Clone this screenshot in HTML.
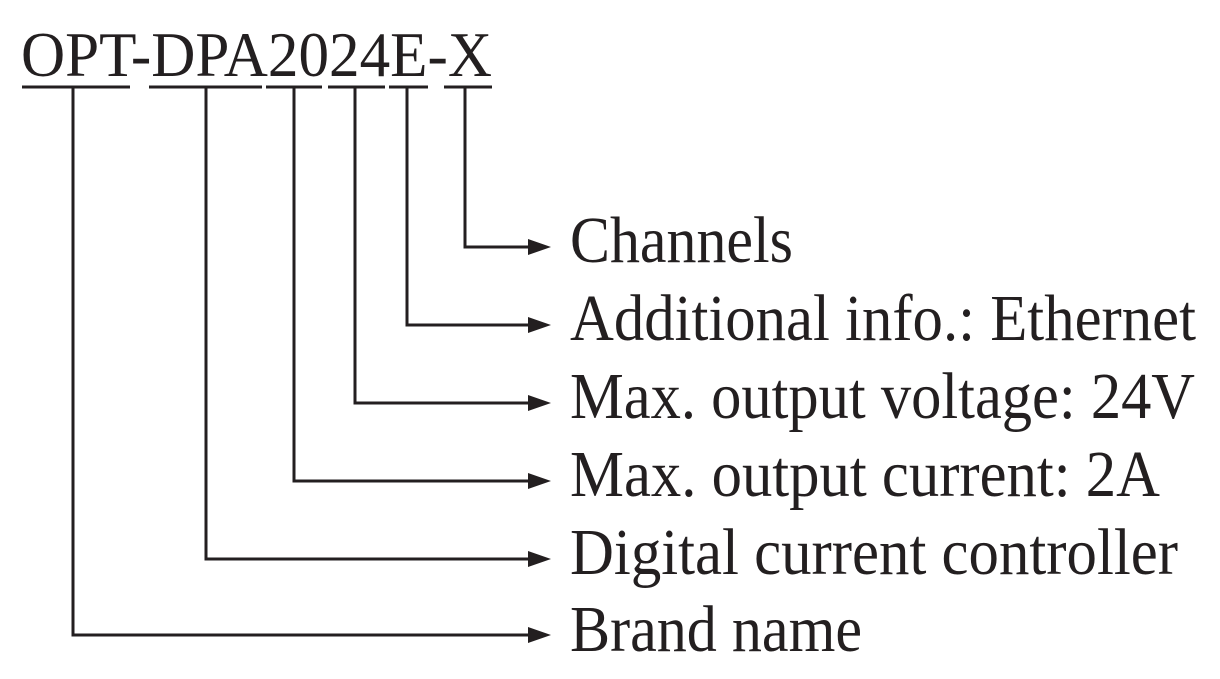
<!DOCTYPE html>
<html><head><meta charset="utf-8"><style>html,body{margin:0;padding:0;background:#fff}svg{display:block}</style></head>
<body>
<svg width="1220" height="679" xmlns="http://www.w3.org/2000/svg">
<g font-family="Liberation Serif, serif" fill="#231f20">
<text x="21" y="76" font-size="64" textLength="471" lengthAdjust="spacingAndGlyphs">OPT-DPA2024E-X</text>
<text x="570" y="262" font-size="66" textLength="223" lengthAdjust="spacingAndGlyphs">Channels</text>
<text x="570" y="340" font-size="66" textLength="626" lengthAdjust="spacingAndGlyphs">Additional info.: Ethernet</text>
<text x="570" y="418" font-size="66" textLength="625" lengthAdjust="spacingAndGlyphs">Max. output voltage: 24V</text>
<text x="570" y="496" font-size="66" textLength="590" lengthAdjust="spacingAndGlyphs">Max. output current: 2A</text>
<text x="570" y="574" font-size="66" textLength="608" lengthAdjust="spacingAndGlyphs">Digital current controller</text>
<text x="570" y="651" font-size="66" textLength="292" lengthAdjust="spacingAndGlyphs">Brand name</text>
</g>
<g stroke="#231f20" stroke-width="3" fill="none">
<path d="M22 87H130M149 87H262M266 87H322M328 87H385M389 87H428M444 87H492"/>
<path d="M465 87V247H530M407 87V325H530M355 87V403H530M294 87V481H530M206 87V559H530M73 87V635H530"/>
</g>
<g fill="#231f20">
<path d="M528 239L551 247L528 255Z"/>
<path d="M528 317L551 325L528 333Z"/>
<path d="M528 395L551 403L528 411Z"/>
<path d="M528 473L551 481L528 489Z"/>
<path d="M528 551L551 559L528 567Z"/>
<path d="M528 627L551 635L528 643Z"/>
</g>
</svg>
</body></html>
